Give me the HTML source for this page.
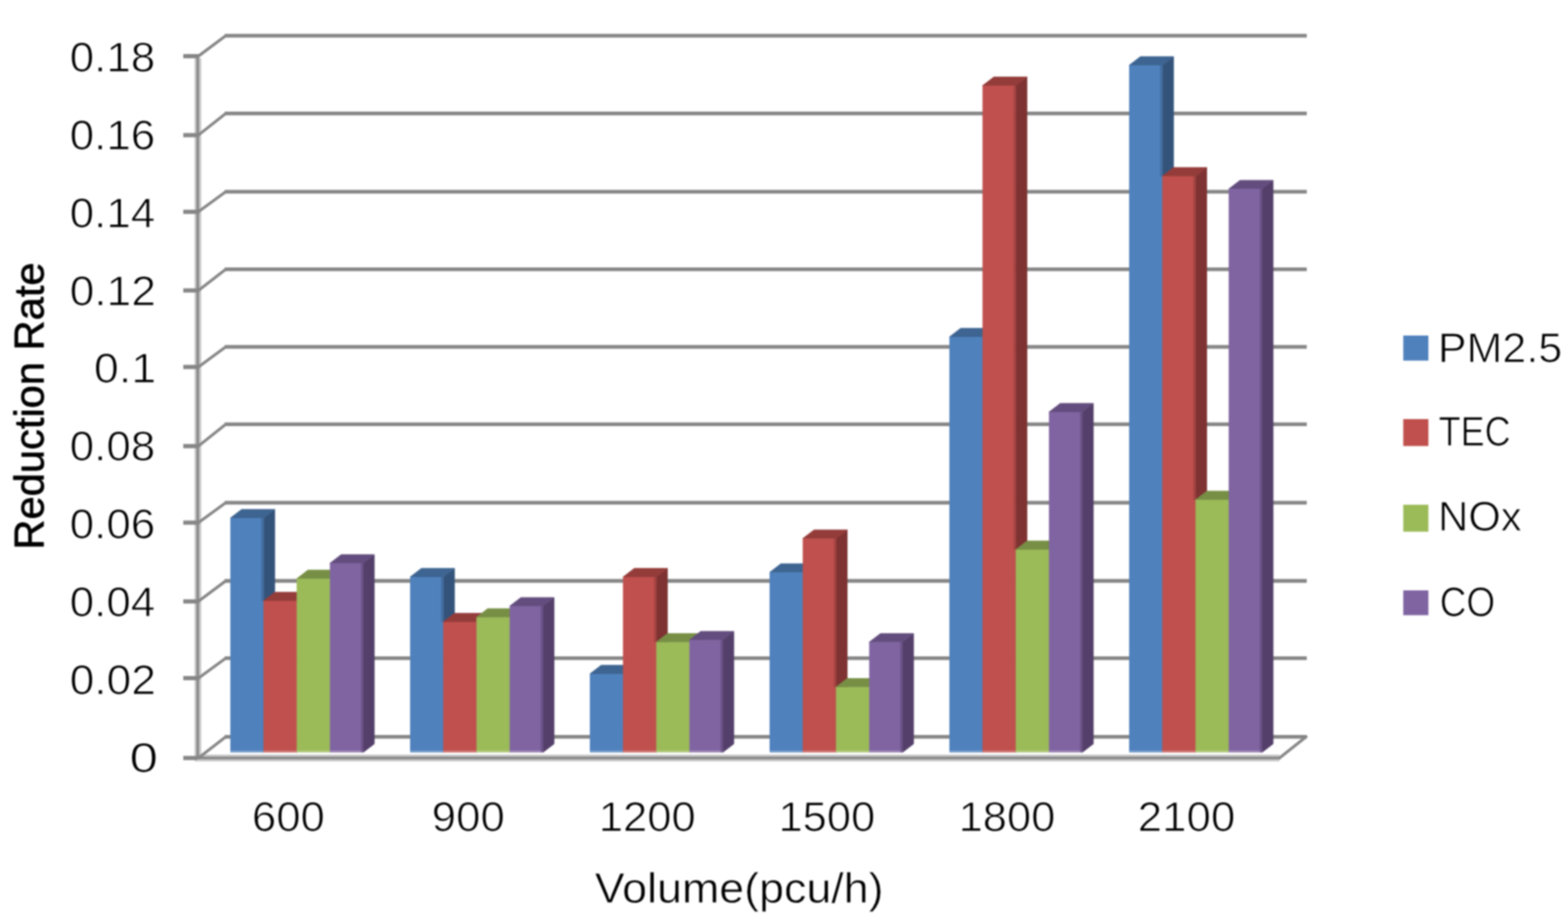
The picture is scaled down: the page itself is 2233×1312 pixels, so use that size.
<!DOCTYPE html>
<html lang="en"><head><meta charset="utf-8"><title>Reduction Rate by Volume</title>
<style>html,body{margin:0;padding:0;background:#fff}body{width:2233px;height:1312px;overflow:hidden}svg{display:block}text{font-family:"Liberation Sans",sans-serif;fill:#000}</style></head><body>
<svg width="2233" height="1312" viewBox="0 0 2233 1312">
<defs><filter id="soft" x="0" y="0" width="100%" height="100%" filterUnits="objectBoundingBox" color-interpolation-filters="sRGB"><feGaussianBlur stdDeviation="0.8"/></filter></defs>
<rect width="2233" height="1312" fill="#fff"/>
<g filter="url(#soft)">
<rect width="2233" height="1312" fill="#fff"/>
<g fill="none" stroke="#868686">
<path stroke="#c6c6c6" stroke-width="9.4" d="M281.8 83.0 V1084.5 M277.1 1079.8 H1822.0"/>
<path stroke-width="5.4" d="M320.0 50.9 H1861.0 M320.0 161.6 H1861.0 M320.0 273.1 H1861.0 M320.0 383.6 H1861.0 M320.0 494.1 H1861.0 M320.0 604.4 H1861.0 M320.0 716.1 H1861.0 M320.0 827.5 H1861.0 M320.0 937.6 H1861.0 M320.0 1049.6 H1861.0"/>
<path stroke-width="6" d="M261 80.0 H283.5 M261 192.5 H283.5 M261 301.7 H283.5 M261 413.8 H283.5 M261 522.8 H283.5 M261 635.5 H283.5 M261 744.6 H283.5 M261 856.7 H283.5 M261 966.1 H283.5"/>
<path stroke-width="4.1" stroke-linecap="round" d="M282.5 80.0 L321.5 50.9 M282.5 192.5 L321.5 161.6 M282.5 301.7 L321.5 273.1 M282.5 413.8 L321.5 383.6 M282.5 522.8 L321.5 494.1 M282.5 635.5 L321.5 604.4 M282.5 744.6 L321.5 716.1 M282.5 856.7 L321.5 827.5 M282.5 966.1 L321.5 937.6 M282.5 1079.8 L321.5 1049.6 M1822.0 1079.8 L1860.0 1049.6"/>
<path stroke-width="3.4" d="M281.6 77.0 V1081.5 M261 1079.8 H1823.5"/>
<path stroke-width="6" d="M261 1079.8 H280.5"/>
</g>
<g stroke-width="0.9" stroke-linejoin="round">
<path fill="#34537A" stroke="#34537A" d="M375.2 738.0 L391.2 725.7 V1059.7 L375.2 1072.0 Z"/>
<path fill="#3E6491" stroke="#3E6491" d="M328.0 738.0 L344.0 725.7 H391.2 L375.2 738.0 Z"/>
<rect fill="#4F81BD" x="328.0" y="738.0" width="47.55" height="334.0"/>
<rect fill="#fff" fill-opacity="0.22" x="328.0" y="1069.0" width="47.55" height="3"/>
<rect fill="#34537A" fill-opacity="0.45" x="372.2" y="738.0" width="3" height="118.0"/>
<path fill="#7E3232" stroke="#7E3232" d="M422.5 856.0 L438.5 843.7 V1059.7 L422.5 1072.0 Z"/>
<path fill="#943C3A" stroke="#943C3A" d="M375.2 856.0 L391.2 843.7 H438.5 L422.5 856.0 Z"/>
<rect fill="#C0504D" x="375.2" y="856.0" width="47.55" height="216.0"/>
<rect fill="#fff" fill-opacity="0.22" x="375.2" y="1069.0" width="47.55" height="3"/>
<path fill="#657A3A" stroke="#657A3A" d="M469.8 824.4 L485.8 812.1 V1059.7 L469.8 1072.0 Z"/>
<path fill="#778F45" stroke="#778F45" d="M422.5 824.4 L438.5 812.1 H485.8 L469.8 824.4 Z"/>
<rect fill="#9BBB59" x="422.5" y="824.4" width="47.55" height="247.6"/>
<rect fill="#fff" fill-opacity="0.22" x="422.5" y="1069.0" width="47.55" height="3"/>
<path fill="#533F69" stroke="#533F69" d="M517.0 802.4 L533.0 790.1 V1059.7 L517.0 1072.0 Z"/>
<path fill="#634D7E" stroke="#634D7E" d="M469.8 802.4 L485.8 790.1 H533.0 L517.0 802.4 Z"/>
<rect fill="#8064A2" x="469.8" y="802.4" width="47.55" height="269.6"/>
<rect fill="#fff" fill-opacity="0.22" x="469.8" y="1069.0" width="47.55" height="3"/>
<rect fill="#533F69" fill-opacity="0.45" x="514.0" y="802.4" width="3" height="269.6"/>
<path fill="#34537A" stroke="#34537A" d="M631.2 822.0 L647.2 809.7 V1059.7 L631.2 1072.0 Z"/>
<path fill="#3E6491" stroke="#3E6491" d="M584.0 822.0 L600.0 809.7 H647.2 L631.2 822.0 Z"/>
<rect fill="#4F81BD" x="584.0" y="822.0" width="47.55" height="250.0"/>
<rect fill="#fff" fill-opacity="0.22" x="584.0" y="1069.0" width="47.55" height="3"/>
<rect fill="#34537A" fill-opacity="0.45" x="628.2" y="822.0" width="3" height="64.0"/>
<path fill="#7E3232" stroke="#7E3232" d="M678.5 886.0 L694.5 873.7 V1059.7 L678.5 1072.0 Z"/>
<path fill="#943C3A" stroke="#943C3A" d="M631.2 886.0 L647.2 873.7 H694.5 L678.5 886.0 Z"/>
<rect fill="#C0504D" x="631.2" y="886.0" width="47.55" height="186.0"/>
<rect fill="#fff" fill-opacity="0.22" x="631.2" y="1069.0" width="47.55" height="3"/>
<path fill="#657A3A" stroke="#657A3A" d="M725.8 879.4 L741.8 867.1 V1059.7 L725.8 1072.0 Z"/>
<path fill="#778F45" stroke="#778F45" d="M678.5 879.4 L694.5 867.1 H741.8 L725.8 879.4 Z"/>
<rect fill="#9BBB59" x="678.5" y="879.4" width="47.55" height="192.6"/>
<rect fill="#fff" fill-opacity="0.22" x="678.5" y="1069.0" width="47.55" height="3"/>
<path fill="#533F69" stroke="#533F69" d="M773.0 863.5 L789.0 851.2 V1059.7 L773.0 1072.0 Z"/>
<path fill="#634D7E" stroke="#634D7E" d="M725.8 863.5 L741.8 851.2 H789.0 L773.0 863.5 Z"/>
<rect fill="#8064A2" x="725.8" y="863.5" width="47.55" height="208.5"/>
<rect fill="#fff" fill-opacity="0.22" x="725.8" y="1069.0" width="47.55" height="3"/>
<rect fill="#533F69" fill-opacity="0.45" x="770.0" y="863.5" width="3" height="208.5"/>
<path fill="#34537A" stroke="#34537A" d="M887.2 960.0 L903.2 947.7 V1059.7 L887.2 1072.0 Z"/>
<path fill="#3E6491" stroke="#3E6491" d="M840.0 960.0 L856.0 947.7 H903.2 L887.2 960.0 Z"/>
<rect fill="#4F81BD" x="840.0" y="960.0" width="47.55" height="112.0"/>
<rect fill="#fff" fill-opacity="0.22" x="840.0" y="1069.0" width="47.55" height="3"/>
<path fill="#7E3232" stroke="#7E3232" d="M934.5 822.0 L950.5 809.7 V1059.7 L934.5 1072.0 Z"/>
<path fill="#943C3A" stroke="#943C3A" d="M887.2 822.0 L903.2 809.7 H950.5 L934.5 822.0 Z"/>
<rect fill="#C0504D" x="887.2" y="822.0" width="47.55" height="250.0"/>
<rect fill="#fff" fill-opacity="0.22" x="887.2" y="1069.0" width="47.55" height="3"/>
<rect fill="#7E3232" fill-opacity="0.45" x="931.5" y="822.0" width="3" height="92.8"/>
<path fill="#657A3A" stroke="#657A3A" d="M981.8 914.8 L997.8 902.5 V1059.7 L981.8 1072.0 Z"/>
<path fill="#778F45" stroke="#778F45" d="M934.5 914.8 L950.5 902.5 H997.8 L981.8 914.8 Z"/>
<rect fill="#9BBB59" x="934.5" y="914.8" width="47.55" height="157.2"/>
<rect fill="#fff" fill-opacity="0.22" x="934.5" y="1069.0" width="47.55" height="3"/>
<path fill="#533F69" stroke="#533F69" d="M1029.0 911.7 L1045.0 899.4 V1059.7 L1029.0 1072.0 Z"/>
<path fill="#634D7E" stroke="#634D7E" d="M981.8 911.7 L997.8 899.4 H1045.0 L1029.0 911.7 Z"/>
<rect fill="#8064A2" x="981.8" y="911.7" width="47.55" height="160.3"/>
<rect fill="#fff" fill-opacity="0.22" x="981.8" y="1069.0" width="47.55" height="3"/>
<rect fill="#533F69" fill-opacity="0.45" x="1026.0" y="911.7" width="3" height="160.3"/>
<path fill="#34537A" stroke="#34537A" d="M1143.2 815.4 L1159.2 803.1 V1059.7 L1143.2 1072.0 Z"/>
<path fill="#3E6491" stroke="#3E6491" d="M1096.0 815.4 L1112.0 803.1 H1159.2 L1143.2 815.4 Z"/>
<rect fill="#4F81BD" x="1096.0" y="815.4" width="47.55" height="256.6"/>
<rect fill="#fff" fill-opacity="0.22" x="1096.0" y="1069.0" width="47.55" height="3"/>
<path fill="#7E3232" stroke="#7E3232" d="M1190.5 767.2 L1206.5 754.9 V1059.7 L1190.5 1072.0 Z"/>
<path fill="#943C3A" stroke="#943C3A" d="M1143.2 767.2 L1159.2 754.9 H1206.5 L1190.5 767.2 Z"/>
<rect fill="#C0504D" x="1143.2" y="767.2" width="47.55" height="304.8"/>
<rect fill="#fff" fill-opacity="0.22" x="1143.2" y="1069.0" width="47.55" height="3"/>
<rect fill="#7E3232" fill-opacity="0.45" x="1187.5" y="767.2" width="3" height="211.6"/>
<path fill="#657A3A" stroke="#657A3A" d="M1237.8 978.8 L1253.8 966.5 V1059.7 L1237.8 1072.0 Z"/>
<path fill="#778F45" stroke="#778F45" d="M1190.5 978.8 L1206.5 966.5 H1253.8 L1237.8 978.8 Z"/>
<rect fill="#9BBB59" x="1190.5" y="978.8" width="47.55" height="93.2"/>
<rect fill="#fff" fill-opacity="0.22" x="1190.5" y="1069.0" width="47.55" height="3"/>
<path fill="#533F69" stroke="#533F69" d="M1285.0 914.8 L1301.0 902.5 V1059.7 L1285.0 1072.0 Z"/>
<path fill="#634D7E" stroke="#634D7E" d="M1237.8 914.8 L1253.8 902.5 H1301.0 L1285.0 914.8 Z"/>
<rect fill="#8064A2" x="1237.8" y="914.8" width="47.55" height="157.2"/>
<rect fill="#fff" fill-opacity="0.22" x="1237.8" y="1069.0" width="47.55" height="3"/>
<rect fill="#533F69" fill-opacity="0.45" x="1282.0" y="914.8" width="3" height="157.2"/>
<path fill="#34537A" stroke="#34537A" d="M1399.2 480.0 L1415.2 467.7 V1059.7 L1399.2 1072.0 Z"/>
<path fill="#3E6491" stroke="#3E6491" d="M1352.0 480.0 L1368.0 467.7 H1415.2 L1399.2 480.0 Z"/>
<rect fill="#4F81BD" x="1352.0" y="480.0" width="47.55" height="592.0"/>
<rect fill="#fff" fill-opacity="0.22" x="1352.0" y="1069.0" width="47.55" height="3"/>
<path fill="#7E3232" stroke="#7E3232" d="M1446.5 122.0 L1462.5 109.7 V1059.7 L1446.5 1072.0 Z"/>
<path fill="#943C3A" stroke="#943C3A" d="M1399.2 122.0 L1415.2 109.7 H1462.5 L1446.5 122.0 Z"/>
<rect fill="#C0504D" x="1399.2" y="122.0" width="47.55" height="950.0"/>
<rect fill="#fff" fill-opacity="0.22" x="1399.2" y="1069.0" width="47.55" height="3"/>
<rect fill="#7E3232" fill-opacity="0.45" x="1443.5" y="122.0" width="3" height="661.0"/>
<path fill="#657A3A" stroke="#657A3A" d="M1493.8 783.0 L1509.8 770.7 V1059.7 L1493.8 1072.0 Z"/>
<path fill="#778F45" stroke="#778F45" d="M1446.5 783.0 L1462.5 770.7 H1509.8 L1493.8 783.0 Z"/>
<rect fill="#9BBB59" x="1446.5" y="783.0" width="47.55" height="289.0"/>
<rect fill="#fff" fill-opacity="0.22" x="1446.5" y="1069.0" width="47.55" height="3"/>
<path fill="#533F69" stroke="#533F69" d="M1541.0 587.0 L1557.0 574.7 V1059.7 L1541.0 1072.0 Z"/>
<path fill="#634D7E" stroke="#634D7E" d="M1493.8 587.0 L1509.8 574.7 H1557.0 L1541.0 587.0 Z"/>
<rect fill="#8064A2" x="1493.8" y="587.0" width="47.55" height="485.0"/>
<rect fill="#fff" fill-opacity="0.22" x="1493.8" y="1069.0" width="47.55" height="3"/>
<rect fill="#533F69" fill-opacity="0.45" x="1538.0" y="587.0" width="3" height="485.0"/>
<path fill="#34537A" stroke="#34537A" d="M1655.2 93.0 L1671.2 80.7 V1059.7 L1655.2 1072.0 Z"/>
<path fill="#3E6491" stroke="#3E6491" d="M1608.0 93.0 L1624.0 80.7 H1671.2 L1655.2 93.0 Z"/>
<rect fill="#4F81BD" x="1608.0" y="93.0" width="47.55" height="979.0"/>
<rect fill="#fff" fill-opacity="0.22" x="1608.0" y="1069.0" width="47.55" height="3"/>
<rect fill="#34537A" fill-opacity="0.45" x="1652.2" y="93.0" width="3" height="158.0"/>
<path fill="#7E3232" stroke="#7E3232" d="M1702.5 251.0 L1718.5 238.7 V1059.7 L1702.5 1072.0 Z"/>
<path fill="#943C3A" stroke="#943C3A" d="M1655.2 251.0 L1671.2 238.7 H1718.5 L1702.5 251.0 Z"/>
<rect fill="#C0504D" x="1655.2" y="251.0" width="47.55" height="821.0"/>
<rect fill="#fff" fill-opacity="0.22" x="1655.2" y="1069.0" width="47.55" height="3"/>
<rect fill="#7E3232" fill-opacity="0.45" x="1699.5" y="251.0" width="3" height="461.0"/>
<path fill="#657A3A" stroke="#657A3A" d="M1749.8 712.0 L1765.8 699.7 V1059.7 L1749.8 1072.0 Z"/>
<path fill="#778F45" stroke="#778F45" d="M1702.5 712.0 L1718.5 699.7 H1765.8 L1749.8 712.0 Z"/>
<rect fill="#9BBB59" x="1702.5" y="712.0" width="47.55" height="360.0"/>
<rect fill="#fff" fill-opacity="0.22" x="1702.5" y="1069.0" width="47.55" height="3"/>
<path fill="#533F69" stroke="#533F69" d="M1797.0 269.2 L1813.0 256.9 V1059.7 L1797.0 1072.0 Z"/>
<path fill="#634D7E" stroke="#634D7E" d="M1749.8 269.2 L1765.8 256.9 H1813.0 L1797.0 269.2 Z"/>
<rect fill="#8064A2" x="1749.8" y="269.2" width="47.55" height="802.8"/>
<rect fill="#fff" fill-opacity="0.22" x="1749.8" y="1069.0" width="47.55" height="3"/>
<rect fill="#533F69" fill-opacity="0.45" x="1794.0" y="269.2" width="3" height="802.8"/>
</g>
<text font-size="58.5" x="99.3" y="101.8" textLength="121.7" lengthAdjust="spacingAndGlyphs" stroke="#fff" stroke-width="1.1" stroke-linejoin="round">0.18</text>
<text font-size="58.5" x="99.3" y="212.7" textLength="121.7" lengthAdjust="spacingAndGlyphs" stroke="#fff" stroke-width="1.1" stroke-linejoin="round">0.16</text>
<text font-size="58.5" x="99.3" y="323.6" textLength="121.6" lengthAdjust="spacingAndGlyphs" stroke="#fff" stroke-width="1.1" stroke-linejoin="round">0.14</text>
<text font-size="58.5" x="99.3" y="434.5" textLength="122.7" lengthAdjust="spacingAndGlyphs" stroke="#fff" stroke-width="1.1" stroke-linejoin="round">0.12</text>
<text font-size="58.5" x="133.8" y="545.4" textLength="88.5" lengthAdjust="spacingAndGlyphs" stroke="#fff" stroke-width="1.1" stroke-linejoin="round">0.1</text>
<text font-size="58.5" x="99.3" y="656.2" textLength="121.7" lengthAdjust="spacingAndGlyphs" stroke="#fff" stroke-width="1.1" stroke-linejoin="round">0.08</text>
<text font-size="58.5" x="99.3" y="767.2" textLength="121.7" lengthAdjust="spacingAndGlyphs" stroke="#fff" stroke-width="1.1" stroke-linejoin="round">0.06</text>
<text font-size="58.5" x="99.3" y="878.1" textLength="121.6" lengthAdjust="spacingAndGlyphs" stroke="#fff" stroke-width="1.1" stroke-linejoin="round">0.04</text>
<text font-size="58.5" x="99.3" y="989.0" textLength="122.7" lengthAdjust="spacingAndGlyphs" stroke="#fff" stroke-width="1.1" stroke-linejoin="round">0.02</text>
<text font-size="58.5" x="184.4" y="1099.8" textLength="40.5" lengthAdjust="spacingAndGlyphs" stroke="#fff" stroke-width="1.1" stroke-linejoin="round">0</text>
<text font-size="58.5" x="358.8" y="1183.8" textLength="103.8" lengthAdjust="spacingAndGlyphs" stroke="#fff" stroke-width="1.1" stroke-linejoin="round">600</text>
<text font-size="58.5" x="614.8" y="1183.8" textLength="104.2" lengthAdjust="spacingAndGlyphs" stroke="#fff" stroke-width="1.1" stroke-linejoin="round">900</text>
<text font-size="58.5" x="852.7" y="1183.8" textLength="138.1" lengthAdjust="spacingAndGlyphs" stroke="#fff" stroke-width="1.1" stroke-linejoin="round">1200</text>
<text font-size="58.5" x="1108.7" y="1183.8" textLength="137.6" lengthAdjust="spacingAndGlyphs" stroke="#fff" stroke-width="1.1" stroke-linejoin="round">1500</text>
<text font-size="58.5" x="1365.2" y="1183.8" textLength="137.6" lengthAdjust="spacingAndGlyphs" stroke="#fff" stroke-width="1.1" stroke-linejoin="round">1800</text>
<text font-size="58.5" x="1620.3" y="1183.8" textLength="138.8" lengthAdjust="spacingAndGlyphs" stroke="#fff" stroke-width="1.1" stroke-linejoin="round">2100</text>
<text font-size="62.0" x="847.0" y="1286.4" textLength="411.3" lengthAdjust="spacingAndGlyphs" stroke="#fff" stroke-width="0.8" stroke-linejoin="round">Volume(pcu/h)</text>
<text font-size="60.0" transform="translate(61.6 783.0) rotate(-90)" x="0" y="0" textLength="409.3" lengthAdjust="spacingAndGlyphs" stroke="#000" stroke-width="0.9" stroke-linejoin="round">Reduction Rate</text>
<text font-size="58.5" x="2047.8" y="515.8" textLength="176.9" lengthAdjust="spacingAndGlyphs" stroke="#fff" stroke-width="1.1" stroke-linejoin="round">PM2.5</text>
<text font-size="58.5" x="2048.7" y="635.0" textLength="102.8" lengthAdjust="spacingAndGlyphs" stroke="#fff" stroke-width="1.1" stroke-linejoin="round">TEC</text>
<text font-size="58.5" x="2047.9" y="756.3" textLength="119.2" lengthAdjust="spacingAndGlyphs" stroke="#fff" stroke-width="1.1" stroke-linejoin="round">NOx</text>
<text font-size="58.5" x="2050.2" y="878.3" textLength="79.3" lengthAdjust="spacingAndGlyphs" stroke="#fff" stroke-width="1.1" stroke-linejoin="round">CO</text>
<rect x="1998.4" y="478.0" width="35.8" height="35.7" fill="#4F81BD"/>
<rect x="1998.4" y="597.0" width="35.8" height="38.4" fill="#C0504D"/>
<rect x="1998.4" y="719.0" width="35.8" height="38.4" fill="#9BBB59"/>
<rect x="1998.4" y="841.0" width="35.8" height="35.4" fill="#8064A2"/>
</g>
</svg></body></html>
